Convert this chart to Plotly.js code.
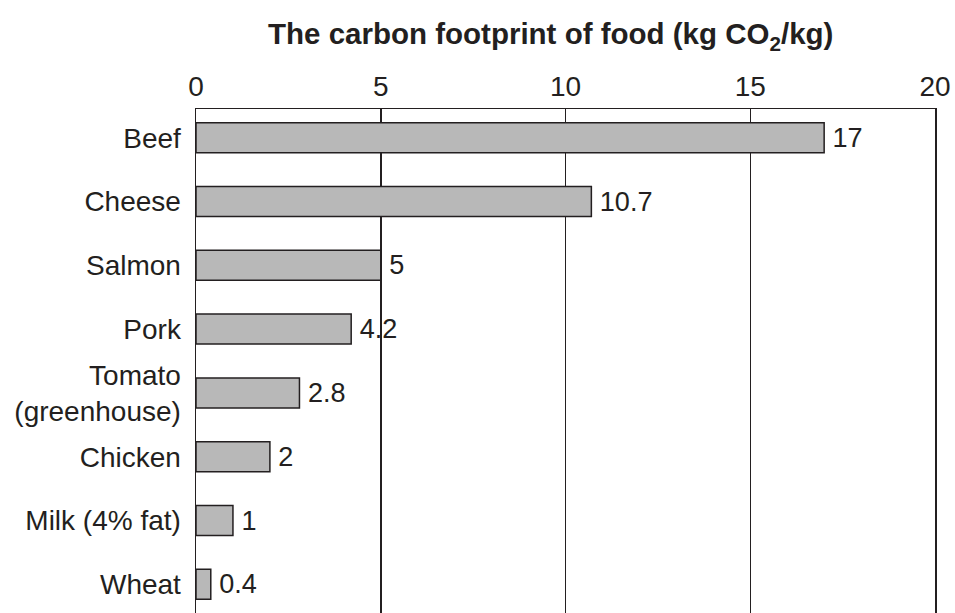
<!DOCTYPE html>
<html>
<head>
<meta charset="utf-8">
<script src="https://cdn.plot.ly/plotly-3.0.1.min.js"></script>
<style>html,body{margin:0;padding:0;background:#fff;}#chart{width:955px;height:613px;}</style>
</head>
<body>
<div id="chart"></div>
<script>
var categories = ["Beef", "Cheese", "Salmon", "Pork", "Tomato<br>(greenhouse)", "Chicken", "Milk (4% fat)", "Wheat"];
var footprint = [17, 10.7, 5, 4.2, 2.8, 2, 1, 0.4];
var xTicks = [0, 5, 10, 15, 20];
var ink = "#231f20";

var trace = {
  type: "bar",
  orientation: "h",
  y: categories,
  x: footprint,
  width: 0.47,
  marker: {color: "#b8b8b8", line: {color: ink, width: 1.5}},
  text: footprint.map(String),
  texttemplate: "\u2009%{text}",
  textposition: "outside",
  cliponaxis: false,
  textfont: {family: "Liberation Sans, Arial, sans-serif", size: 28, color: ink},
  hoverinfo: "none"
};

var layout = {
  width: 955,
  height: 613,
  margin: {l: 196, r: 20, t: 109, b: 0},
  paper_bgcolor: "#fff",
  plot_bgcolor: "#fff",
  showlegend: false,
  font: {family: "Liberation Sans, Arial, sans-serif", size: 28, color: ink},
  title: {
    text: "<b>The carbon footprint of food (kg CO<sub>2</sub>/kg)</b>",
    font: {family: "Liberation Sans, Arial, sans-serif", size: 29.5, color: ink},
    xref: "paper", x: 0.48, xanchor: "center",
    yref: "container", y: 1 - 34/613, yanchor: "middle"
  },
  xaxis: {
    side: "top",
    range: [0, 20],
    tickvals: xTicks,
    ticktext: xTicks.map(String),
    showgrid: true,
    gridcolor: ink,
    gridwidth: 1.5,
    zeroline: false,
    showline: true,
    linecolor: ink,
    linewidth: 1.5,
    ticks: "",
    ticklabelstandoff: 0,
    tickfont: {size: 28, color: ink},
    fixedrange: true
  },
  yaxis: {
    type: "category",
    autorange: false,
    range: [7.45, -0.45],
    showgrid: false,
    zeroline: false,
    showline: true,
    mirror: true,
    linecolor: ink,
    linewidth: 1.5,
    ticks: "",
    ticklabelstandoff: 8,
    tickfont: {size: 28, color: ink},
    fixedrange: true
  }
};

Plotly.newPlot("chart", [trace], layout, {displayModeBar: false, staticPlot: true});
</script>
</body>
</html>
